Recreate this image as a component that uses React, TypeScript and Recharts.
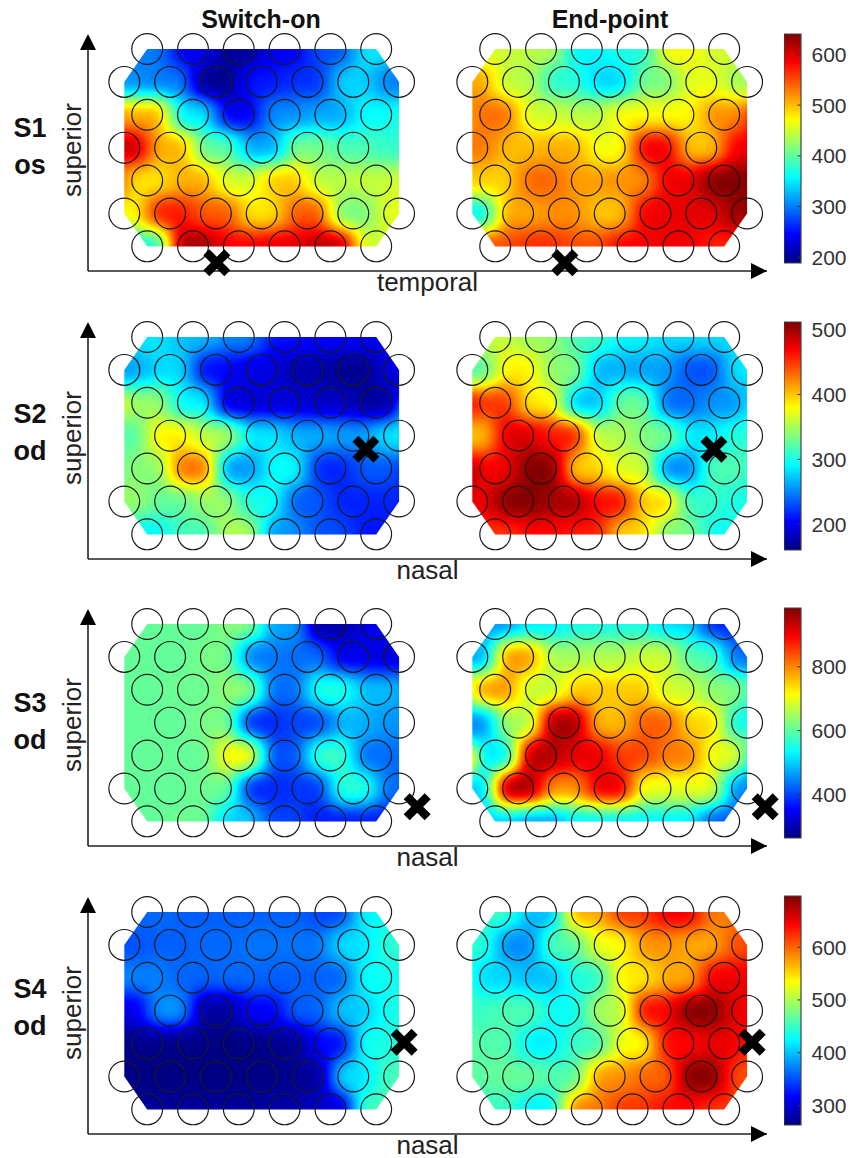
import { BarChart, Bar, ScatterChart, Scatter, XAxis, YAxis } from 'recharts'

// electrode values per row, top row first; rows alternate 6 and 7 electrodes
const S1_ON = [
  [300, 240, 200, 240, 280, 350],
  [310, 300, 195, 255, 265, 340, 300],
  [505, 350, 240, 310, 320, 360],
  [610, 505, 400, 320, 410, 390, 380],
  [480, 505, 450, 495, 440, 445],
  [470, 575, 545, 480, 545, 410, 460],
  [370, 625, 585, 595, 615, 450],
]
const S1_END = [
  [450, 440, 355, 370, 470, 450],
  [510, 440, 375, 340, 410, 460, 430],
  [535, 450, 440, 470, 470, 520],
  [530, 500, 505, 465, 590, 495, 590],
  [490, 540, 515, 520, 590, 645],
  [355, 510, 520, 495, 590, 595, 630],
  [550, 565, 550, 585, 590, 570],
]
const S2_ON = [
  [285, 270, 250, 210, 205, 200],
  [260, 280, 205, 195, 175, 165, 195],
  [345, 290, 190, 190, 185, 170],
  [320, 385, 355, 285, 265, 260, 285],
  [340, 430, 255, 295, 215, 235],
  [345, 325, 345, 300, 235, 215, 215],
  [290, 315, 355, 255, 230, 210],
]
const S2_END = [
  [360, 345, 315, 290, 280, 280],
  [320, 385, 340, 265, 260, 230, 285],
  [450, 385, 270, 330, 240, 255],
  [400, 480, 460, 355, 335, 285, 305],
  [470, 515, 395, 365, 250, 320],
  [475, 510, 500, 465, 395, 310, 300],
  [450, 465, 460, 395, 335, 295],
]
const S3_ON = [
  [605, 605, 630, 470, 290, 340],
  [605, 605, 620, 440, 430, 340, 330],
  [605, 610, 640, 430, 560, 490],
  [605, 605, 620, 380, 400, 480, 460],
  [605, 605, 720, 410, 580, 430],
  [605, 605, 610, 380, 390, 570, 430],
  [605, 610, 500, 400, 370, 370],
]
const S3_END = [
  [460, 520, 550, 550, 510, 380],
  [470, 790, 650, 660, 680, 590, 430],
  [790, 670, 750, 750, 680, 630],
  [450, 650, 960, 760, 830, 740, 540],
  [520, 950, 910, 850, 810, 700],
  [500, 960, 790, 910, 700, 700, 450],
  [500, 470, 530, 530, 530, 420],
]
const S4_ON = [
  [362, 358, 358, 358, 345, 425],
  [352, 358, 362, 366, 366, 415, 445],
  [372, 360, 362, 358, 358, 430],
  [305, 382, 275, 315, 358, 405, 435],
  [268, 266, 264, 270, 320, 435],
  [266, 264, 264, 266, 272, 415, 455],
  [275, 275, 275, 280, 296, 455],
]
const S4_END = [
  [450, 395, 570, 620, 650, 590],
  [445, 375, 460, 530, 580, 570, 610],
  [410, 400, 440, 540, 570, 650],
  [450, 460, 430, 500, 640, 700, 650],
  [460, 420, 450, 530, 640, 650],
  [465, 470, 460, 580, 600, 700, 610],
  [450, 420, 590, 620, 640, 620],
]

const S1_TICKS = [200, 300, 400, 500, 600]
const S2_TICKS = [200, 300, 400, 500]
const S3_TICKS = [400, 600, 800]
const S4_TICKS = [300, 400, 500, 600]

const RIGHT_OFFSET = 15.197 // right panel, in electrode columns
const CELL_W = 45.8
const CELL_H = 32.9
const TOP_PAD = 30
const PLOT_H = 222
const PLOT_LEFT = 88
const PLOT_RIGHT = 767
const COL_MIN = -1.585
const COL_MAX = 28.066
const FONT = '"Liberation Sans", Arial, sans-serif'

const HULL: [number, number][] = [[1, 0], [11, 0], [12, 1], [12, 5], [11, 6], [1, 6], [0, 5], [0, 1]]

const colPx = (c: number) => PLOT_LEFT + ((c - COL_MIN) / (COL_MAX - COL_MIN)) * (PLOT_RIGHT - PLOT_LEFT)
const rowPx = (r: number) => TOP_PAD + r * CELL_H
const hullPoints = (offset: number) => HULL.map(([c, r]) => `${colPx(c + offset)},${rowPx(r)}`).join(' ')

const clamp = (v: number) => Math.max(0, Math.min(1, v))
const jetChannel = (shift: number) =>
  Array.from({ length: 129 }, (_, i) => clamp(1.5 - Math.abs(4 * (i / 128) - shift)).toFixed(4)).join(' ')

interface RowConfig {
  top: number
  barTop: number
  barBottom: number
  min: number
  max: number
  ticks: number[]
  on: number[][]
  end: number[][]
  xLabel: string
  missingCol: number // blind spot electrode in the middle row, no circle drawn
  cross: { x: number; y: number }
  name: string[]
  nameY: number
}

const ROWS: RowConfig[] = [
  { top: 49, barTop: 34, barBottom: 263, min: 189, max: 640, ticks: S1_TICKS, on: S1_ON, end: S1_END, xLabel: 'temporal', missingCol: 12, cross: { x: 4.04, y: 6.5 }, name: ['S1', 'os'], nameY: 110 },
  { top: 336.7, barTop: 322, barBottom: 550, min: 160, max: 512, ticks: S2_TICKS, on: S2_ON, end: S2_END, xLabel: 'nasal', missingCol: 0, cross: { x: 10.55, y: 3.41 }, name: ['S2', 'od'], nameY: 396 },
  { top: 624, barTop: 608, barBottom: 838, min: 264, max: 984, ticks: S3_TICKS, on: S3_ON, end: S3_END, xLabel: 'nasal', missingCol: 0, cross: { x: 12.79, y: 5.56 }, name: ['S3', 'od'], nameY: 685 },
  { top: 911.7, barTop: 896, barBottom: 1125, min: 263, max: 697, ticks: S4_TICKS, on: S4_ON, end: S4_END, xLabel: 'nasal', missingCol: 0, cross: { x: 12.22, y: 3.96 }, name: ['S4', 'od'], nameY: 971 },
]

function cellsOf(values: number[][], offset: number) {
  return values.flatMap((row, r) =>
    row.map((value, i) => ({ x: (row.length === 7 ? i * 2 : i * 2 + 1) + offset, y: r, value })),
  )
}

// big squares first so the flat edges of the map do not fade out under the blur
function heatData(values: number[][], offset: number) {
  const cells = cellsOf(values, offset)
  return [...cells.map((c) => ({ ...c, big: true })), ...cells.map((c) => ({ ...c, big: false }))]
}

function circleData(values: number[][], offset: number, missingCol: number) {
  return cellsOf(values, offset).filter((c) => !(c.y === 3 && c.x - offset === missingCol))
}

// eslint-disable-next-line @typescript-eslint/no-explicit-any
function Ring({ cx, cy }: any) {
  return <circle cx={cx} cy={cy} r={15.4} fill="none" stroke="#1a1a1a" strokeWidth={1.2} />
}

// eslint-disable-next-line @typescript-eslint/no-explicit-any
function CrossMark({ cx, cy }: any) {
  const d = 10.5
  return (
    <path
      d={`M${cx - d},${cy - d}L${cx + d},${cy + d}M${cx - d},${cy + d}L${cx + d},${cy - d}`}
      stroke="#000"
      strokeWidth={8.5}
      fill="none"
    />
  )
}

function heatCell(min: number, max: number) {
  // eslint-disable-next-line @typescript-eslint/no-explicit-any
  return ({ cx, cy, payload }: any) => {
    const g = Math.round(255 * clamp((payload.value - min) / (max - min)))
    const w = payload.big ? CELL_W * 2.6 : CELL_W
    const h = payload.big ? CELL_H * 2.6 : CELL_H
    return <rect x={cx - w / 2} y={cy - h / 2} width={w} height={h} fill={`rgb(${g},${g},${g})`} />
  }
}

function MapRow({ row }: { row: RowConfig }) {
  const shape = heatCell(row.min, row.max)
  return (
    <div style={{ position: 'absolute', left: 0, top: row.top - TOP_PAD }}>
      <ScatterChart
        width={780}
        height={TOP_PAD + PLOT_H + 36}
        margin={{ top: TOP_PAD, right: 780 - PLOT_RIGHT, bottom: 6, left: PLOT_LEFT - 30 }}
      >
        <XAxis
          type="number"
          dataKey="x"
          domain={[COL_MIN, COL_MAX]}
          tick={false}
          tickLine={false}
          height={30}
          axisLine={{ stroke: '#222', strokeWidth: 1.6, markerEnd: 'url(#arrowRight)' }}
          label={{ value: row.xLabel, position: 'insideBottom', offset: 10, fontSize: 26, fill: '#222', fontFamily: FONT }}
        />
        <YAxis
          type="number"
          dataKey="y"
          domain={[0, 6.75]}
          reversed
          tick={false}
          tickLine={false}
          width={30}
          axisLine={{ stroke: '#222', strokeWidth: 1.6, markerStart: 'url(#arrowUp)' }}
          label={{ value: 'superior', angle: -90, position: 'insideLeft', offset: 14, dy: 37, fontSize: 26, fill: '#222', fontFamily: FONT }}
        />
        <Scatter data={heatData(row.on, 0)} className="heat-left" shape={shape} isAnimationActive={false} />
        <Scatter data={heatData(row.end, RIGHT_OFFSET)} className="heat-right" shape={shape} isAnimationActive={false} />
        <Scatter data={circleData(row.on, 0, row.missingCol)} shape={Ring} isAnimationActive={false} />
        <Scatter data={circleData(row.end, RIGHT_OFFSET, row.missingCol)} shape={Ring} isAnimationActive={false} />
        <Scatter
          data={[row.cross, { x: row.cross.x + RIGHT_OFFSET, y: row.cross.y }]}
          shape={CrossMark}
          isAnimationActive={false}
        />
      </ScatterChart>
    </div>
  )
}

function ColorBar({ row }: { row: RowConfig }) {
  const pad = 12
  return (
    <div style={{ position: 'absolute', left: 783.5, top: row.barTop - pad }}>
      <BarChart
        width={66}
        height={row.barBottom - row.barTop + pad * 2}
        data={[{ name: 'scale', range: [row.min, row.max] }]}
        margin={{ top: pad, right: 0, bottom: pad, left: 0 }}
        barCategoryGap={0}
      >
        <XAxis dataKey="name" hide />
        <YAxis
          orientation="right"
          type="number"
          domain={[row.min, row.max]}
          ticks={row.ticks}
          interval={0}
          width={49.5}
          axisLine={false}
          tickSize={-3}
          tickMargin={14}
          tickLine={{ stroke: '#333' }}
          tick={{ fontSize: 21, fill: '#333', fontFamily: FONT, textAnchor: 'start' }}
        />
        <Bar dataKey="range" fill="url(#jetScale)" stroke="#444" strokeWidth={1.2} isAnimationActive={false} />
      </BarChart>
    </div>
  )
}

const labelStyle = {
  position: 'absolute',
  fontFamily: FONT,
  fontWeight: 700,
  color: '#111',
  textAlign: 'center',
  whiteSpace: 'nowrap',
} as const

export default function App() {
  return (
    <div style={{ position: 'absolute', left: 0, top: 0, width: 850, height: 1158, background: '#fff', overflow: 'hidden' }}>
      <style>{`
        .heat-left { filter: url(#valueToJet); clip-path: url(#clipLeft); }
        .heat-right { filter: url(#valueToJet); clip-path: url(#clipRight); }
      `}</style>
      <svg width={0} height={0} style={{ position: 'absolute' }}>
        <defs>
          <filter id="valueToJet" x="-20%" y="-20%" width="140%" height="140%" colorInterpolationFilters="sRGB">
            <feGaussianBlur stdDeviation={9} />
            <feComponentTransfer>
              <feFuncR type="table" tableValues={jetChannel(3)} />
              <feFuncG type="table" tableValues={jetChannel(2)} />
              <feFuncB type="table" tableValues={jetChannel(1)} />
            </feComponentTransfer>
          </filter>
          <clipPath id="clipLeft">
            <polygon points={hullPoints(0)} />
          </clipPath>
          <clipPath id="clipRight">
            <polygon points={hullPoints(RIGHT_OFFSET)} />
          </clipPath>
          <marker id="arrowUp" markerUnits="userSpaceOnUse" markerWidth={17} markerHeight={17} viewBox="0 0 17 17" refX={1} refY={8.5} orient="auto-start-reverse">
            <path d="M0,0.5L16,8.5L0,16.5Z" fill="#000" />
          </marker>
          <marker id="arrowRight" markerUnits="userSpaceOnUse" markerWidth={17} markerHeight={17} viewBox="0 0 17 17" refX={16} refY={8.5} orient="auto">
            <path d="M0,0.5L16,8.5L0,16.5Z" fill="#000" />
          </marker>
          <linearGradient id="jetScale" x1="0" y1="1" x2="0" y2="0">
            {Array.from({ length: 33 }, (_, i) => {
              const t = i / 32
              const c = (s: number) => Math.round(255 * clamp(1.5 - Math.abs(4 * t - s)))
              return <stop key={i} offset={t} stopColor={`rgb(${c(3)},${c(2)},${c(1)})`} />
            })}
          </linearGradient>
        </defs>
      </svg>
      <div style={{ ...labelStyle, left: 161, top: 5, width: 200, fontSize: 25 }}>Switch-on</div>
      <div style={{ ...labelStyle, left: 510, top: 5, width: 200, fontSize: 25 }}>End-point</div>
      {ROWS.map((row) => (
        <div key={row.name[0]}>
          <MapRow row={row} />
          <ColorBar row={row} />
          <div style={{ ...labelStyle, left: 0, top: row.nameY, width: 60, fontSize: 27, lineHeight: '37px' }}>
            {row.name[0]}
            <br />
            {row.name[1]}
          </div>
        </div>
      ))}
    </div>
  )
}
